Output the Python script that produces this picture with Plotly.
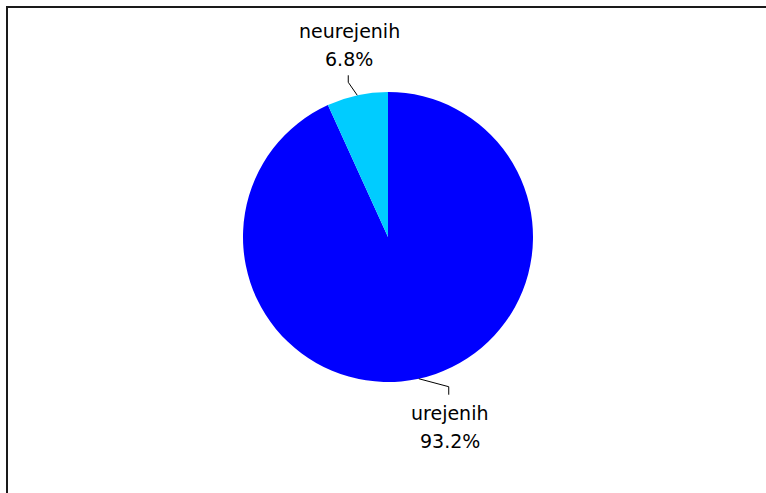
import math
import plotly.graph_objects as go

# Share of items by status (drawn clockwise from 12 o'clock)
categories = ["urejenih", "neurejenih"]
shares = [93.2, 6.8]
colors = ["#0000FF", "#00CCFF"]

W, H = 766, 493
cx, cy, r = 388, 237, 145

# leader-line styling per label: elbow offset from the rim, then a short vertical tick
leader_style = {
    "neurejenih": dict(elbow=(-9, -13), tick=-7, side="above"),
    "urejenih": dict(elbow=(30, 8), tick=8, side="below"),
}

FONT = dict(family="DejaVu Sans", size=19, color="#000000")


def px(x):
    return x / W


def py(y):
    return 1 - y / H


fig = go.Figure(
    go.Pie(
        labels=categories,
        values=shares,
        sort=False,
        direction="clockwise",
        rotation=0,
        marker=dict(colors=colors, line=dict(width=0)),
        textinfo="none",
        domain=dict(
            x=[(cx - r) / W, (cx + r) / W],
            y=[1 - (cy + r) / H, 1 - (cy - r) / H],
        ),
        showlegend=False,
        hoverinfo="label+percent",
    )
)

# label each slice at its mid-angle, measured clockwise from 12 o'clock
shapes = []
annotations = []
total = sum(shares)
start = 0.0
for name, val in zip(categories, shares):
    mid = (start + val / 2) / total * 2 * math.pi
    start += val
    ex = cx + r * math.sin(mid)
    ey = cy - r * math.cos(mid)
    st = leader_style[name]
    bx, by = ex + st["elbow"][0], ey + st["elbow"][1]
    tx, ty = bx, by + st["tick"]
    shapes.append(
        dict(
            type="path",
            xref="paper",
            yref="paper",
            path=f"M {px(ex)} {py(ey)} L {px(bx)} {py(by)} L {px(tx)} {py(ty)}",
            line=dict(color="#000000", width=1),
        )
    )
    pct = f"{val:.1f}%"
    if st["side"] == "above":
        lines = [(name, ty - 44), (pct, ty - 16)]
    else:
        lines = [(name, ty + 18), (pct, ty + 46)]
    for txt, yc in lines:
        annotations.append(
            dict(
                text=txt,
                x=px(tx + 1),
                y=py(yc),
                xref="paper",
                yref="paper",
                xanchor="center",
                yanchor="middle",
                showarrow=False,
                font=FONT,
            )
        )

shapes.append(
    dict(
        type="rect",
        xref="paper",
        yref="paper",
        x0=7 / W,
        x1=1.05,
        y0=-0.05,
        y1=1 - 7 / H,
        line=dict(color="#1a1a1a", width=2),
        fillcolor="rgba(0,0,0,0)",
        layer="below",
    )
)

fig.update_layout(
    width=W,
    height=H,
    margin=dict(l=0, r=0, t=0, b=0),
    paper_bgcolor="#FFFFFF",
    plot_bgcolor="#FFFFFF",
    shapes=shapes,
    annotations=annotations,
)

fig.write_html("out.html")
